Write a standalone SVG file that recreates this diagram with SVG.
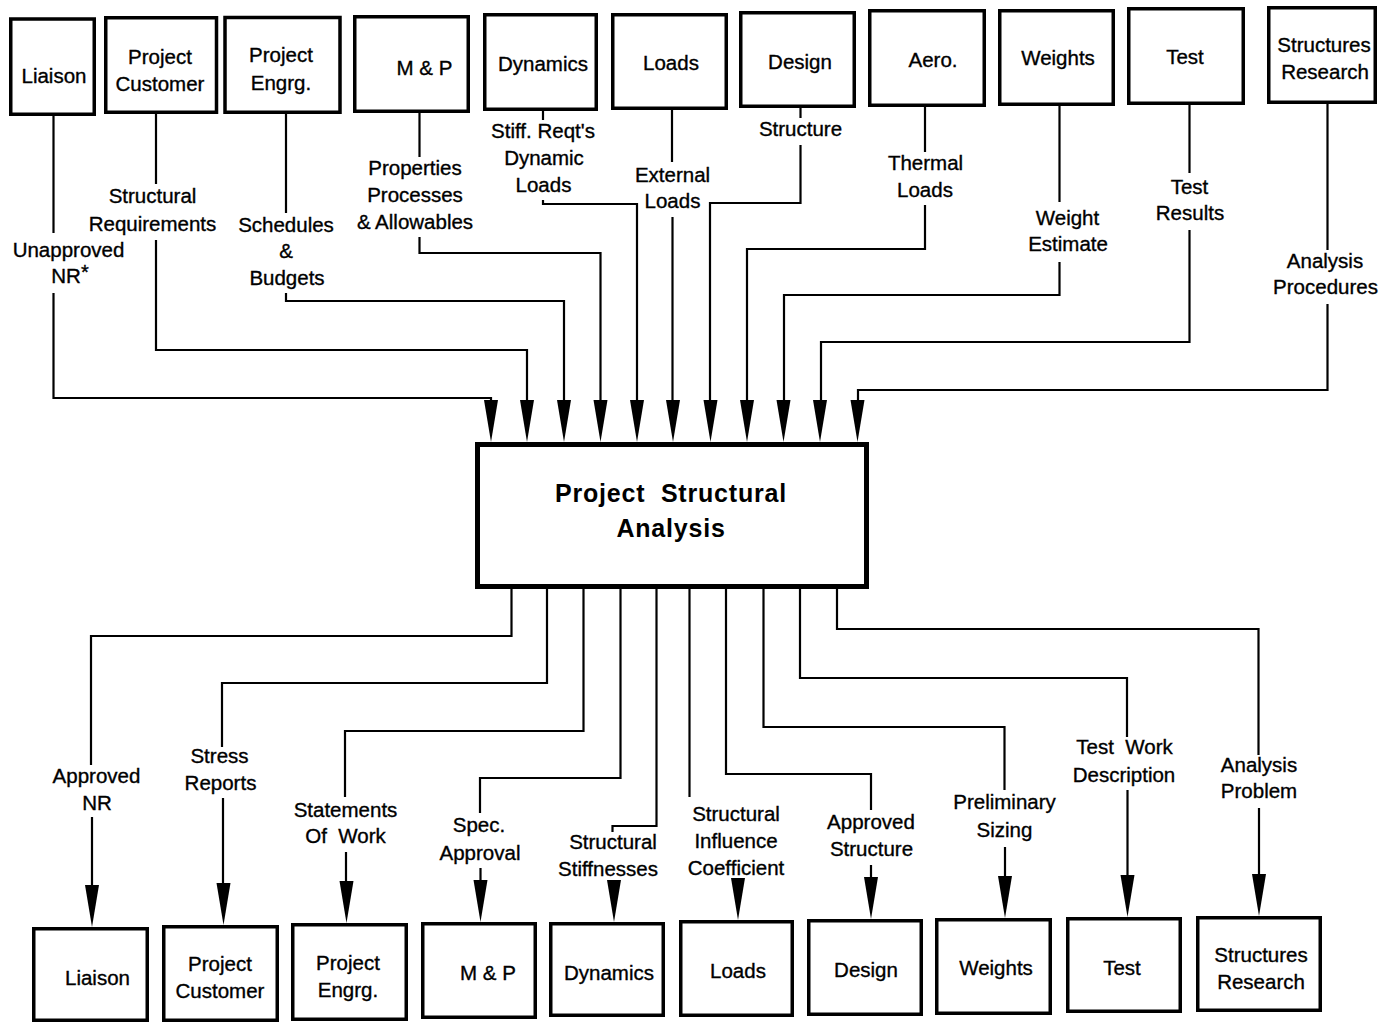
<svg xmlns="http://www.w3.org/2000/svg" xmlns:xlink="http://www.w3.org/1999/xlink" width="1390" height="1023" viewBox="0 0 1390 1023">
  <style>
    .box { fill: #fff; stroke: #000; stroke-width: 3.5; }
    .core { fill: #fff; stroke: #000; stroke-width: 5; }
    .lbl { font-family: "Liberation Sans", Arial, Helvetica, sans-serif; font-size: 20.5px; fill: #000; stroke: #000; stroke-width: 0.35px; text-anchor: middle; }
    .title { font-family: "Liberation Sans", Arial, Helvetica, sans-serif; font-size: 25px; font-weight: bold; letter-spacing: 0.8px; fill: #000; text-anchor: middle; }
    .wire { fill: none; stroke: #000; stroke-width: 2.2; }
  </style>
  <defs>
    <!-- long narrow arrowhead, apex at (0,42) -->
    <path id="ah" d="M-7,0 L7,0 L0,42 Z" fill="#000"/>
  </defs>
  <rect width="1390" height="1023" fill="#fff"/>

  <!-- input groups (top row) -->
  <g id="in-liaison"><rect class="box" x="10.75" y="19" width="83.5" height="95.25"/><text class="lbl" x="54" y="83">Liaison</text></g>
  <g id="in-customer"><rect class="box" x="105.75" y="17.75" width="110.75" height="94.5"/><text class="lbl" x="160" y="64">Project</text><text class="lbl" x="160" y="90.5">Customer</text></g>
  <g id="in-engrg"><rect class="box" x="225" y="17.5" width="115" height="94.75"/><text class="lbl" x="281" y="62">Project</text><text class="lbl" x="281" y="90">Engrg.</text></g>
  <g id="in-mp"><rect class="box" x="354.75" y="16.75" width="113.5" height="94.5"/><text class="lbl" x="424.5" y="75">M &amp; P</text></g>
  <g id="in-dynamics"><rect class="box" x="484.75" y="14.75" width="111.5" height="94.5"/><text class="lbl" x="543" y="70.5">Dynamics</text></g>
  <g id="in-loads"><rect class="box" x="612.75" y="14.75" width="113.5" height="93.5"/><text class="lbl" x="671" y="69.5">Loads</text></g>
  <g id="in-design"><rect class="box" x="740.75" y="12.75" width="113.5" height="93.5"/><text class="lbl" x="800" y="68.5">Design</text></g>
  <g id="in-aero"><rect class="box" x="869.75" y="10.75" width="114.5" height="94.5"/><text class="lbl" x="933" y="66.5">Aero.</text></g>
  <g id="in-weights"><rect class="box" x="999.75" y="10.75" width="113.5" height="93.5"/><text class="lbl" x="1058" y="65">Weights</text></g>
  <g id="in-test"><rect class="box" x="1128.75" y="8.75" width="114.5" height="94.5"/><text class="lbl" x="1185" y="64">Test</text></g>
  <g id="in-research"><rect class="box" x="1268.75" y="7.75" width="106.5" height="94.5"/><text class="lbl" x="1324" y="51.5">Structures</text><text class="lbl" x="1325" y="78.5">Research</text></g>

  <!-- central process -->
  <g id="core">
    <rect class="core" x="477.5" y="444.5" width="389" height="142"/>
    <text class="title" x="671" y="502" xml:space="preserve">Project  Structural</text>
    <text class="title" x="671" y="537">Analysis</text>
  </g>

  <!-- output groups (bottom row) -->
  <g id="out-liaison"><rect class="box" x="33.75" y="928.75" width="113.5" height="91.5"/><text class="lbl" x="97.5" y="985">Liaison</text></g>
  <g id="out-customer"><rect class="box" x="163.75" y="926.75" width="113.5" height="93.5"/><text class="lbl" x="220" y="971">Project</text><text class="lbl" x="220" y="998">Customer</text></g>
  <g id="out-engrg"><rect class="box" x="292.75" y="924.75" width="113.5" height="94.5"/><text class="lbl" x="348" y="970">Project</text><text class="lbl" x="348" y="996.5">Engrg.</text></g>
  <g id="out-mp"><rect class="box" x="422.75" y="923.75" width="112.5" height="93.5"/><text class="lbl" x="488" y="980">M &amp; P</text></g>
  <g id="out-dynamics"><rect class="box" x="550.75" y="923.75" width="112.5" height="91.5"/><text class="lbl" x="609" y="980">Dynamics</text></g>
  <g id="out-loads"><rect class="box" x="680.75" y="921.75" width="111.5" height="93.5"/><text class="lbl" x="738" y="978">Loads</text></g>
  <g id="out-design"><rect class="box" x="808.75" y="920.75" width="112.5" height="93.5"/><text class="lbl" x="866" y="976.5">Design</text></g>
  <g id="out-weights"><rect class="box" x="936.75" y="919.75" width="113.5" height="93.5"/><text class="lbl" x="996" y="975">Weights</text></g>
  <g id="out-test"><rect class="box" x="1067.75" y="918.75" width="112.5" height="92.5"/><text class="lbl" x="1122" y="975">Test</text></g>
  <g id="out-research"><rect class="box" x="1197.75" y="917.75" width="122.5" height="92.5"/><text class="lbl" x="1261" y="962">Structures</text><text class="lbl" x="1261" y="988.5">Research</text></g>

  <!-- connectors with their labels -->
  <g id="connectors">
    <!-- inputs -->
    <path class="wire" d="M53.5,116 V233 M53.5,293 V398 H491 V400"/>
    <text class="lbl" x="68.5" y="256.5">Unapproved</text>
    <text class="lbl" x="70" y="283">NR<tspan dy="-4" font-size="20">*</tspan></text>

    <path class="wire" d="M156,114 V184 M156,240 V350 H527 V400"/>
    <text class="lbl" x="152.5" y="203">Structural</text>
    <text class="lbl" x="152.5" y="230.5">Requirements</text>

    <path class="wire" d="M286,114 V213 M286,293 V301 H564 V400"/>
    <text class="lbl" x="286" y="231.5">Schedules</text>
    <text class="lbl" x="286" y="258">&amp;</text>
    <text class="lbl" x="287" y="285">Budgets</text>

    <path class="wire" d="M419.5,112 V157 M419.5,237 V253 H600.5 V400"/>
    <text class="lbl" x="415" y="175">Properties</text>
    <text class="lbl" x="415" y="201.5">Processes</text>
    <text class="lbl" x="415" y="229">&amp; Allowables</text>

    <path class="wire" d="M543,111 V120 M543,200 V204 H637 V400"/>
    <text class="lbl" x="543" y="138">Stiff. Reqt's</text>
    <text class="lbl" x="544" y="165">Dynamic</text>
    <text class="lbl" x="543.5" y="191.5">Loads</text>

    <path class="wire" d="M672,110 V162 M672.5,217 V400"/>
    <text class="lbl" x="672.5" y="181.5">External</text>
    <text class="lbl" x="672.5" y="208">Loads</text>

    <path class="wire" d="M800.5,108 V118 M800.5,145 V203 H710 V400"/>
    <text class="lbl" x="800.5" y="136">Structure</text>

    <path class="wire" d="M925,107 V152 M925,205 V249 H747 V400"/>
    <text class="lbl" x="925.5" y="170">Thermal</text>
    <text class="lbl" x="925" y="196.5">Loads</text>

    <path class="wire" d="M1059.5,106 V202 M1059.5,262 V295 H784 V400"/>
    <text class="lbl" x="1067.5" y="225">Weight</text>
    <text class="lbl" x="1068" y="250.5">Estimate</text>

    <path class="wire" d="M1189.5,105 V173 M1189.5,230 V342 H821 V400"/>
    <text class="lbl" x="1189.5" y="194">Test</text>
    <text class="lbl" x="1190" y="220">Results</text>

    <path class="wire" d="M1327.5,104 V250 M1327.5,304 V390 H858 V400"/>
    <text class="lbl" x="1325" y="268">Analysis</text>
    <text class="lbl" x="1325.5" y="294">Procedures</text>

    <use xlink:href="#ah" x="491" y="400"/>
    <use xlink:href="#ah" x="527" y="400"/>
    <use xlink:href="#ah" x="564" y="400"/>
    <use xlink:href="#ah" x="600.5" y="400"/>
    <use xlink:href="#ah" x="637" y="400"/>
    <use xlink:href="#ah" x="673" y="400"/>
    <use xlink:href="#ah" x="710.5" y="400"/>
    <use xlink:href="#ah" x="747" y="400"/>
    <use xlink:href="#ah" x="783.5" y="400"/>
    <use xlink:href="#ah" x="820" y="400"/>
    <use xlink:href="#ah" x="857.5" y="400"/>

    <!-- outputs -->
    <path class="wire" d="M511.5,589 V636 H91 V765 M92,817 V886"/>
    <text class="lbl" x="96.5" y="783">Approved</text>
    <text class="lbl" x="97" y="810">NR</text>

    <path class="wire" d="M547,589 V683 H222 V747 M223,798 V884"/>
    <text class="lbl" x="219.5" y="763">Stress</text>
    <text class="lbl" x="220.5" y="789.5">Reports</text>

    <path class="wire" d="M583.5,589 V731 H345 V797 M346,852 V882"/>
    <text class="lbl" x="345.5" y="816.5">Statements</text>
    <text class="lbl" x="345.5" y="843" xml:space="preserve">Of  Work</text>

    <path class="wire" d="M620.5,589 V778 H480 V813 M480.5,868 V881"/>
    <text class="lbl" x="479" y="831.5">Spec.</text>
    <text class="lbl" x="480" y="859.5">Approval</text>

    <path class="wire" d="M656.5,589 V826 H612.5 V832"/>
    <text class="lbl" x="613" y="849">Structural</text>
    <text class="lbl" x="608" y="875.5">Stiffnesses</text>

    <path class="wire" d="M689.5,589 V797"/>
    <text class="lbl" x="736" y="820.5">Structural</text>
    <text class="lbl" x="736" y="848">Influence</text>
    <text class="lbl" x="736" y="875">Coefficient</text>

    <path class="wire" d="M726,589 V774 H871 V810 M871,865 V877"/>
    <text class="lbl" x="871" y="829">Approved</text>
    <text class="lbl" x="871.5" y="855.5">Structure</text>

    <path class="wire" d="M763.5,589 V727 H1004.5 V790 M1005,847 V876"/>
    <text class="lbl" x="1004.5" y="809">Preliminary</text>
    <text class="lbl" x="1004.5" y="836.5">Sizing</text>

    <path class="wire" d="M800,589 V678 H1127 V737 M1127.5,790 V875"/>
    <text class="lbl" x="1124.5" y="754" xml:space="preserve">Test  Work</text>
    <text class="lbl" x="1124" y="781.5">Description</text>

    <path class="wire" d="M837,589 V629 H1258.5 V755 M1259,808 V874"/>
    <text class="lbl" x="1259" y="771.5">Analysis</text>
    <text class="lbl" x="1259" y="798">Problem</text>

    <use xlink:href="#ah" x="92" y="885"/>
    <use xlink:href="#ah" x="223.5" y="883"/>
    <use xlink:href="#ah" x="346.5" y="881"/>
    <use xlink:href="#ah" x="480.5" y="880"/>
    <use xlink:href="#ah" x="614" y="880"/>
    <use xlink:href="#ah" x="738" y="878"/>
    <use xlink:href="#ah" x="871" y="877"/>
    <use xlink:href="#ah" x="1005" y="876"/>
    <use xlink:href="#ah" x="1127.5" y="875"/>
    <use xlink:href="#ah" x="1259" y="874"/>
  </g>
</svg>
